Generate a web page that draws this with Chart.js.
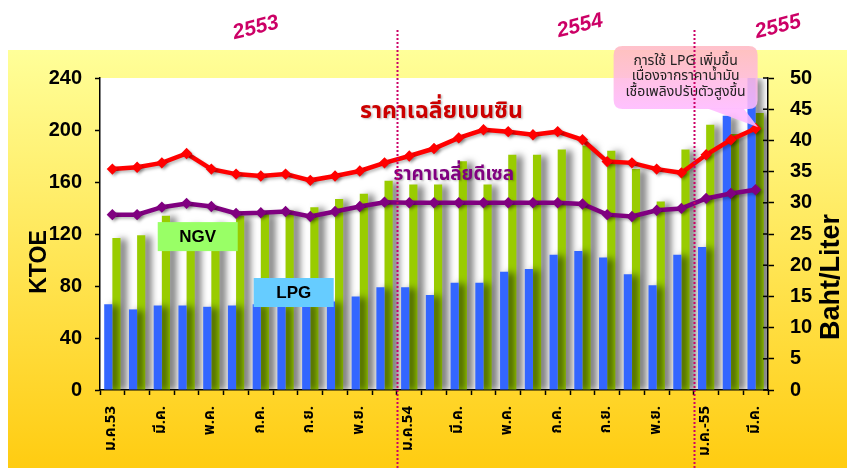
<!DOCTYPE html>
<html>
<head>
<meta charset="utf-8">
<title>การใช้ LPG และ NGV ภาคขนส่ง</title>
<script src="https://cdn.jsdelivr.net/npm/chart.js"></script>
<style>
  body { margin: 0; background: #fff; }
  canvas { display: block; }
</style>
</head>
<body>
<canvas id="fuelChart" width="847" height="468"></canvas>
<script>
  // เดือน ม.ค.53 - มี.ค.55
  const months = ['ม.ค.53', 'ก.พ.', 'มี.ค.', 'เม.ย.', 'พ.ค.', 'มิ.ย.', 'ก.ค.', 'ส.ค.', 'ก.ย.', 'ต.ค.', 'พ.ย.', 'ธ.ค.',
                  'ม.ค.54', 'ก.พ.', 'มี.ค.', 'เม.ย.', 'พ.ค.', 'มิ.ย.', 'ก.ค.', 'ส.ค.', 'ก.ย.', 'ต.ค.', 'พ.ย.', 'ธ.ค.',
                  'ม.ค.-55', 'ก.พ.', 'มี.ค.'];
  const lpg = [66, 62, 65, 65, 64, 65, 66, 65, 67, 68, 72, 79,
               79, 73, 82.5, 82.5, 91, 93, 104, 107, 102, 89, 80.5, 104,
               110, 211, 240];
  const ngv = [117, 119, 134, 127, 128, 134, 136, 138, 140.5, 147, 151, 161,
               158, 158, 176, 158, 181, 181, 185, 188, 184, 170, 145, 185,
               204, 197, 213];
  const benzin = [35.4, 35.7, 36.4, 37.9, 35.4, 34.6, 34.3, 34.6, 33.6, 34.3, 35.1, 36.4,
                  37.5, 38.7, 40.4, 41.7, 41.4, 40.9, 41.4, 40.1, 36.6, 36.4, 35.4, 34.8,
                  37.7, 40.1, 41.9];
  const diesel = [28.1, 28.1, 29.3, 29.9, 29.4, 28.3, 28.4, 28.6, 27.8, 28.6, 29.4, 30.1,
                  30, 30, 30, 30, 30, 30, 30, 29.8, 28.1, 27.8, 28.8, 29.1,
                  30.7, 31.5, 32.1];
  const years = ['2553', '2554', '2555'];
  const calloutText = ['การใช้ LPG เพิ่มขึ้น', 'เนื่องจากราคาน้ำมัน', 'เชื้อเพลิงปรับตัวสูงขึ้น'];

  const FONT = 'Arial, "Liberation Sans", sans-serif';
  const THAI = 'Tahoma, "Noto Sans Thai", "Loma", "Garuda", "Noto Sans", sans-serif';

  function roundRect(ctx, x, y, w, h, r) {
    ctx.beginPath();
    ctx.moveTo(x + r, y);
    ctx.lineTo(x + w - r, y);
    ctx.quadraticCurveTo(x + w, y, x + w, y + r);
    ctx.lineTo(x + w, y + h - r);
    ctx.quadraticCurveTo(x + w, y + h, x + w - r, y + h);
    ctx.lineTo(x + r, y + h);
    ctx.quadraticCurveTo(x, y + h, x, y + h - r);
    ctx.lineTo(x, y + r);
    ctx.quadraticCurveTo(x, y, x + r, y);
    ctx.closePath();
  }

  function labelBox(ctx, cx, cy, text, fill) {
    ctx.fillStyle = fill;
    ctx.fillRect(cx - 40, cy - 14.5, 80, 29);
    ctx.fillStyle = '#000';
    ctx.font = 'bold 17px ' + FONT;
    ctx.textAlign = 'center';
    ctx.textBaseline = 'middle';
    ctx.fillText(text, cx, cy + 1);
  }

  const decor = {
    id: 'decor',
    beforeDraw(chart) {
      const { ctx, chartArea: a, width, height } = chart;
      ctx.save();
      ctx.fillStyle = '#fff';
      ctx.fillRect(0, 0, width, height);
      const g = ctx.createLinearGradient(0, 50, 0, height);
      g.addColorStop(0, '#FFFF99');
      g.addColorStop(1, '#FFCC11');
      ctx.fillStyle = g;
      ctx.fillRect(8, 50, width - 8, height - 50);
      ctx.fillStyle = '#fff';
      ctx.fillRect(a.left, a.top, a.right - a.left, a.bottom - a.top);
      ctx.restore();
    },
    beforeDatasetDraw(chart, args) {
      const ctx = chart.ctx;
      ctx.save();
      if (args.meta.type === 'bar') {
        ctx.shadowColor = 'rgba(0,0,0,0.55)';
        ctx.shadowOffsetX = 6;
        ctx.shadowOffsetY = 1;
        ctx.shadowBlur = 7;
      } else {
        ctx.shadowColor = 'rgba(0,0,0,0.25)';
        ctx.shadowOffsetX = 2;
        ctx.shadowOffsetY = 2;
        ctx.shadowBlur = 3;
      }
    },
    afterDatasetDraw(chart) {
      chart.ctx.restore();
    },
    afterDraw(chart) {
      const { ctx, chartArea: a, height } = chart;
      const x = chart.scales.x, yL = chart.scales.y, yR = chart.scales.y1;
      ctx.save();

      // กล่อง NGV / LPG
      labelBox(ctx, x.getPixelForValue(3.45), yL.getPixelForValue(118), 'NGV', '#99FF66');
      labelBox(ctx, x.getPixelForValue(7.33), yL.getPixelForValue(75), 'LPG', '#66CCFF');

      // ป้ายเส้นราคา
      ctx.textAlign = 'center';
      ctx.textBaseline = 'middle';
      ctx.shadowColor = 'rgba(0,0,0,0.25)';
      ctx.shadowOffsetX = 1.5;
      ctx.shadowOffsetY = 1.5;
      ctx.shadowBlur = 2;
      ctx.font = 'bold 23px ' + THAI;
      ctx.fillStyle = '#CC0000';
      ctx.fillText('ราคาเฉลี่ยเบนซิน', x.getPixelForValue(13.3), yR.getPixelForValue(44.4));
      ctx.font = 'bold 19px ' + THAI;
      ctx.fillStyle = '#800080';
      ctx.fillText('ราคาเฉลี่ยดีเซล', x.getPixelForValue(13.8), yR.getPixelForValue(34.3));
      ctx.shadowColor = 'transparent';

      // กล่องคำอธิบาย
      const cx = x.getPixelForValue(23.17);
      const bx = cx - 72, by = a.top - 32, bw = 144, bh = 63;
      const tipX = x.getPixelForValue(26.1), tipY = yR.getPixelForValue(42.1);
      const cg = ctx.createLinearGradient(0, by, 0, by + bh);
      cg.addColorStop(0, 'rgba(255,185,195,0.88)');
      cg.addColorStop(1, 'rgba(255,185,255,0.88)');
      ctx.fillStyle = cg;
      roundRect(ctx, bx, by, bw, bh, 9);
      ctx.fill();
      ctx.beginPath();
      ctx.moveTo(bx + bw - 50, by + bh - 0.5);
      ctx.lineTo(tipX, tipY);
      ctx.lineTo(bx + bw - 14, by + bh - 0.5);
      ctx.closePath();
      ctx.fillStyle = 'rgba(255,185,255,0.88)';
      ctx.fill();
      ctx.fillStyle = '#222';
      ctx.font = '14px ' + THAI;
      calloutText.forEach((t, i) => ctx.fillText(t, cx, by + 16 + i * 15.5));

      // เส้นแบ่งปี
      ctx.strokeStyle = '#CC0066';
      ctx.lineWidth = 2;
      ctx.setLineDash([2, 2]);
      [11.5, 23.5].forEach(v => {
        const px = Math.round(x.getPixelForValue(v)) + 0.5;
        ctx.beginPath();
        ctx.moveTo(px, 30);
        ctx.lineTo(px, height);
        ctx.stroke();
      });
      ctx.setLineDash([]);

      // ปี
      ctx.fillStyle = '#CC0066';
      ctx.font = 'italic bold 21px ' + FONT;
      [[5.8, 28], [18.9, 26], [26.9, 27]].forEach(([v, py], i) => {
        ctx.save();
        ctx.translate(x.getPixelForValue(v), py);
        ctx.rotate(-14 * Math.PI / 180);
        ctx.fillText(years[i], 0, 0);
        ctx.restore();
      });

      // ชื่อแกน
      ctx.fillStyle = '#000';
      ctx.save();
      ctx.translate(40, 262);
      ctx.rotate(-Math.PI / 2);
      ctx.font = 'bold 23px ' + FONT;
      ctx.fillText('KTOE', 0, 0);
      ctx.restore();
      ctx.save();
      ctx.translate(832, 277);
      ctx.rotate(-Math.PI / 2);
      ctx.font = 'bold 27px ' + FONT;
      ctx.fillText('Baht/Liter', 0, 0);
      ctx.restore();

      // ขีดแกนขวาด้านใน
      ctx.strokeStyle = '#000';
      ctx.lineWidth = 1.5;
      yR.ticks.forEach(t => {
        const py = yR.getPixelForValue(t.value);
        ctx.beginPath();
        ctx.moveTo(a.right - 5, py);
        ctx.lineTo(a.right, py);
        ctx.stroke();
      });
      ctx.restore();
    }
  };

  const ctx = document.getElementById('fuelChart').getContext('2d');
  new Chart(ctx, {
    type: 'bar',
    data: {
      labels: months,
      datasets: [
        { type: 'line', label: 'ราคาเฉลี่ยเบนซิน', data: benzin, yAxisID: 'y1', order: 0,
          borderColor: '#FF0000', backgroundColor: '#FF0000', borderWidth: 4.5,
          pointStyle: 'rectRot', pointRadius: 2.5, tension: 0 },
        { type: 'line', label: 'ราคาเฉลี่ยดีเซล', data: diesel, yAxisID: 'y1', order: 0,
          borderColor: '#800080', backgroundColor: '#800080', borderWidth: 4.5,
          pointStyle: 'rectRot', pointRadius: 2.5, tension: 0 },
        { label: 'LPG', data: lpg, backgroundColor: '#3366FF', yAxisID: 'y', order: 1,
          categoryPercentage: 0.66, barPercentage: 1.0 },
        { label: 'NGV', data: ngv, backgroundColor: '#99CC00', yAxisID: 'y', order: 1,
          categoryPercentage: 0.66, barPercentage: 1.0 }
      ]
    },
    options: {
      responsive: false,
      animation: false,
      devicePixelRatio: 1,
      layout: { padding: { top: 78, left: 0, right: 0, bottom: 0 } },
      plugins: { legend: { display: false }, tooltip: { enabled: false } },
      scales: {
        x: {
          afterFit: s => { s.height = 78; },
          border: { color: '#000', width: 1.5 },
          grid: { drawOnChartArea: false, tickLength: 5, color: '#000', tickWidth: 1.5 },
          ticks: {
            autoSkip: false, maxRotation: 90, minRotation: 90, padding: 11, color: '#000',
            font: { family: THAI, size: 15, weight: 'bold' },
            callback: (v, i) => (i % 2 === 0 ? months[i] : '')
          }
        },
        y: {
          position: 'left', min: 0, max: 240,
          afterFit: s => { s.width = 100; },
          border: { color: '#000', width: 1.5 },
          grid: { drawOnChartArea: false, tickLength: 5, color: '#000', tickWidth: 1.5 },
          ticks: { stepSize: 40, padding: 13, color: '#000', font: { family: FONT, size: 20, weight: 'bold' } }
        },
        y1: {
          position: 'right', min: 0, max: 50,
          afterFit: s => { s.width = 79; },
          border: { color: '#000', width: 1.5 },
          grid: { drawOnChartArea: false, tickLength: 6, color: '#000', tickWidth: 1.5 },
          ticks: { stepSize: 5, padding: 16, color: '#000', font: { family: FONT, size: 20, weight: 'bold' } }
        }
      }
    },
    plugins: [decor]
  });
</script>
</body>
</html>
